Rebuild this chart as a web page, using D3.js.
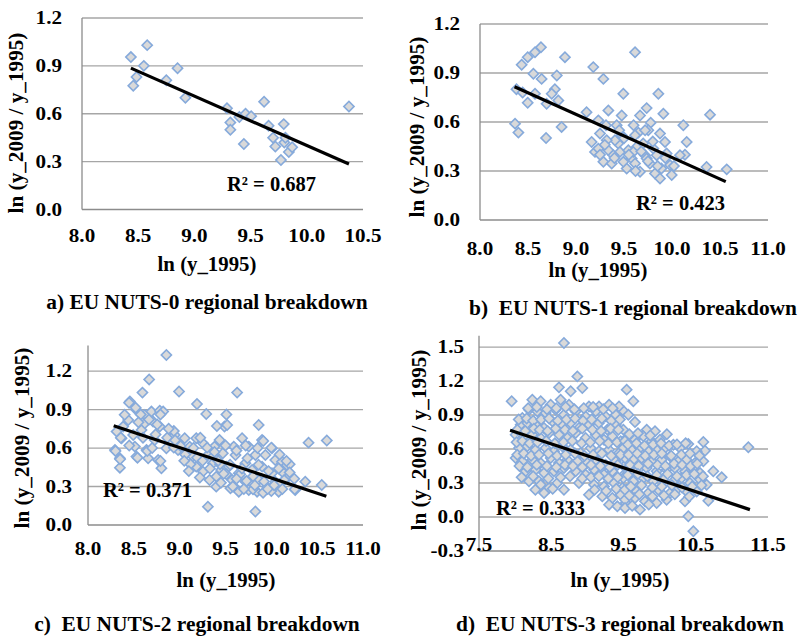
<!DOCTYPE html>
<html><head><meta charset="utf-8">
<script src="https://cdn.jsdelivr.net/npm/d3@7/dist/d3.min.js"></script>
<style>
body{margin:0;background:#fff;}
svg text{font-family:"Liberation Serif","Times New Roman",serif;font-weight:bold;fill:#000;white-space:pre;}
</style></head>
<body><svg id="c" width="806" height="636"></svg>
<script>
// ---------- DATA ----------
const yTitle = "ln (y_2009 / y_1995)";
const xTitle = "ln (y_1995)";
const captions = ["a) EU NUTS-0 regional breakdown","b)  EU NUTS-1 regional breakdown","c)  EU NUTS-2 regional breakdown","d)  EU NUTS-3 regional breakdown"];
const r2Labels = ["R² = 0.687","R² = 0.423","R² = 0.371","R² = 0.333"];

const xTicksA = [8.0,8.5,9.0,9.5,10.0,10.5];
const xTicksB = [8.0,8.5,9.0,9.5,10.0,10.5,11.0];
const xTicksD = [7.5,8.5,9.5,10.5,11.5];
const yTicksA = [0.0,0.3,0.6,0.9,1.2];
const yTicksD = [-0.3,0.0,0.3,0.6,0.9,1.2,1.5];

const nuts0X = [8.435,8.58,8.55,8.485,8.456,8.75,8.85,8.92,9.29,9.32,9.32,9.40,9.455,9.505,9.44,9.62,9.66,9.70,9.72,9.795,9.80,9.77,9.84,9.87,10.375,9.81];
const nuts0Y = [0.955,1.03,0.90,0.83,0.775,0.81,0.885,0.70,0.635,0.545,0.50,0.58,0.60,0.585,0.41,0.675,0.525,0.45,0.395,0.535,0.42,0.31,0.36,0.39,0.645,0.45];
const trend0 = [[8.435,0.886],[10.375,0.285]];

const nuts1X = [8.635,8.573,8.497,8.434,8.885,9.615,8.556,8.642,8.80,9.18,9.285,8.38,8.444,8.573,8.78,8.747,8.816,8.694,8.497,9.493,9.858,8.365,8.40,8.688,8.85,9.11,9.233,9.337,9.476,9.667,9.736,9.91,10.396,10.118,10.153,9.778,9.65,9.753,9.875,9.927,10.135,10.36,10.57,9.163,9.25,9.3125,9.424,9.198,9.285,9.372,9.233,9.337,9.44,9.458,9.528,9.58,9.632,9.615,9.667,9.719,9.77,9.823,9.875,9.89,9.98,9.997,10.083,9.806,9.84,9.545,9.406,9.32,9.493,9.615,9.736,9.944,9.389,9.597,9.70,9.476,
 9.30,9.40,9.50,9.55,9.62,9.68,9.75,9.80,9.85,9.93,9.60,9.45,9.25,9.72,10.02];
const nuts1Y = [1.058,1.027,0.997,0.95,0.997,1.027,0.895,0.864,0.885,0.936,0.864,0.80,0.78,0.773,0.80,0.773,0.732,0.712,0.718,0.773,0.773,0.59,0.535,0.502,0.57,0.66,0.61,0.671,0.64,0.64,0.685,0.65,0.645,0.58,0.478,0.596,0.535,0.549,0.529,0.478,0.40,0.325,0.31,0.478,0.529,0.58,0.58,0.417,0.356,0.346,0.437,0.427,0.468,0.417,0.315,0.376,0.447,0.519,0.295,0.397,0.346,0.285,0.254,0.315,0.336,0.275,0.397,0.437,0.397,0.427,0.488,0.488,0.356,0.346,0.376,0.407,0.397,0.417,0.468,0.519,
 0.46,0.38,0.50,0.40,0.30,0.42,0.36,0.48,0.33,0.38,0.58,0.55,0.40,0.55,0.33];
const trend1 = [[8.36,0.816],[10.56,0.235]];

const nuts2X = [8.855,8.667,8.594,8.993,8.457,8.529,8.62,8.692,8.783,8.82,9.189,9.29,8.439,8.384,8.312,8.366,8.294,8.348,8.348,8.511,8.529,8.638,8.656,8.765,8.801,8.493,8.584,8.62,8.71,8.783,8.728,8.855,8.946,9.055,8.982,9.109,9.145,9.181,9.254,9.308,9.308,9.38,9.362,9.399,9.435,9.471,9.453,9.489,9.254,9.326,9.399,9.507,9.181,
 9.627,9.862,9.518,9.681,9.899,10.007,10.406,10.605,9.59,9.754,9.826,9.935,10.043,10.116,10.17,9.609,9.717,9.536,9.645,9.79,9.899,10.007,10.134,10.188,10.37,10.55,10.261,10.08,9.953,9.844,9.754,9.645,9.554,9.826,9.717,9.862,10.043,9.572,
 10.20,10.255,10.09,10.0,9.91,9.80,9.73,9.66,9.587,9.51,9.44,9.37,9.30,9.225,9.19,9.117,9.06,9.01,8.936,8.936,8.864,8.79,8.755,8.665,8.575,8.52,8.448,8.358,8.30,8.35,8.54,8.647,8.737,8.79,9.406,9.51,9.912,10.0,10.09,10.165,
 9.25,9.33,9.42,9.48,9.55,9.62,9.68,9.74,9.80,9.86,9.92,9.97,10.03,10.08,10.14,10.20,9.38,9.50,9.62,9.72,9.85,9.58,9.70,9.82,9.96,9.45,9.15,9.05,8.95,8.88,8.70,8.60,8.45,8.40,8.55,9.10,9.22,10.25,10.12];
const nuts2Y = [1.325,1.135,1.032,1.04,0.962,0.896,0.858,0.884,0.891,0.884,0.943,0.865,0.819,0.767,0.728,0.676,0.585,0.52,0.447,0.611,0.533,0.585,0.52,0.507,0.442,0.702,0.741,0.793,0.806,0.767,0.663,0.598,0.702,0.676,0.585,0.611,0.533,0.455,0.637,0.546,0.143,0.611,0.481,0.377,0.663,0.559,0.429,0.767,0.416,0.351,0.299,0.455,0.676,
 1.032,0.78,0.78,0.676,0.663,0.598,0.642,0.658,0.611,0.611,0.546,0.546,0.507,0.494,0.468,0.546,0.481,0.455,0.403,0.429,0.455,0.403,0.403,0.377,0.338,0.312,0.273,0.26,0.299,0.26,0.273,0.26,0.286,0.105,0.338,0.351,0.338,0.351,
 0.473,0.278,0.317,0.265,0.252,0.278,0.343,0.395,0.304,0.395,0.473,0.538,0.603,0.68,0.525,0.473,0.55,0.616,0.732,0.603,0.68,0.862,0.784,0.823,0.862,0.914,0.953,0.68,0.577,0.512,0.525,0.577,0.706,0.499,0.771,0.862,0.655,0.603,0.55,0.499,
 0.50,0.44,0.50,0.40,0.47,0.36,0.44,0.52,0.38,0.47,0.34,0.42,0.31,0.44,0.35,0.41,0.57,0.62,0.58,0.62,0.60,0.30,0.28,0.31,0.28,0.33,0.60,0.50,0.66,0.75,0.60,0.68,0.62,0.86,0.80,0.42,0.37,0.36,0.28];
const trend2 = [[8.28,0.774],[10.6,0.224]];

const nuts3X = [8.676,8.861,8.607,8.769,8.93,7.952,8.676,8.469,8.33,
 8.238,8.354,8.492,8.63,8.746,9.022,9.161,9.30,9.438,
 8.10,8.192,8.307,8.423,8.561,8.676,8.838,8.976,9.115,9.253,9.392,9.507,
 8.077,8.169,8.284,8.40,8.515,8.653,8.769,8.884,9.022,9.161,9.276,9.392,
 8.007,8.123,8.238,8.354,8.469,8.607,8.723,8.838,8.976,9.115,9.23,9.345,9.461,
 8.054,8.169,8.284,8.423,8.538,8.653,8.769,8.907,9.046,9.161,9.30,9.438,
 8.007,8.10,8.238,8.354,8.492,8.607,8.723,8.861,8.999,9.115,9.253,9.392,9.507,
 8.146,8.284,8.40,8.538,8.676,8.838,8.976,9.092,9.23,9.345,9.484,
 8.192,8.354,8.584,8.884,9.092,9.23,9.369,9.484,
 8.40,9.022,9.207,9.345,9.461,
 9.30,9.415,9.53,
 9.544,9.636,11.228,10.397,10.467,9.567,9.659,10.397,10.605,10.628,10.743,10.859,10.674,
 9.498,9.821,9.936,
 9.544,9.659,9.775,9.89,10.005,
 9.498,9.613,9.728,9.844,9.959,10.074,10.19,10.282,10.513,
 9.521,9.636,9.751,9.89,10.028,10.144,10.259,10.374,10.49,10.605,
 9.567,9.705,9.821,9.959,10.097,10.213,10.351,10.467,10.559,
 9.498,9.636,9.775,9.913,10.051,10.19,10.305,10.42,10.559,10.651,
 9.544,9.682,9.844,9.982,10.144,10.259,10.374,10.513,
 9.521,9.659,9.798,9.959,10.097,10.351,
 9.521,9.728,
 8.18,8.30,8.44,8.57,8.70,8.82,8.95,9.08,9.22,9.35,
 8.05,8.16,8.25,8.36,8.47,8.59,8.71,8.83,8.94,9.06,9.20,9.33,9.45,
 8.03,8.14,8.26,8.34,8.45,8.56,8.69,8.80,8.93,9.07,9.19,9.32,9.43,
 8.02,8.10,8.20,8.31,8.43,8.55,8.67,8.79,8.92,9.04,9.17,9.29,9.41,9.52,
 8.03,8.12,8.22,8.33,8.46,8.58,8.70,8.83,8.96,9.08,9.20,9.33,9.46,
 8.06,8.17,8.30,8.44,8.57,8.69,8.80,8.93,9.05,9.18,9.31,9.42,
 8.09,8.25,8.46,8.63,8.76,8.93,9.05,9.16,9.29,9.42,
 8.28,8.52,9.10,9.26,9.40,9.52,
 9.58,9.70,9.87,10.10,
 9.56,9.68,9.79,9.91,10.02,10.13,10.24,10.36,
 9.57,9.69,9.80,9.92,10.03,10.16,10.30,10.42,10.55,
 9.59,9.71,9.84,9.97,10.08,10.20,10.31,10.43,10.52,
 9.56,9.70,9.83,9.96,10.11,10.24,10.37,10.48,10.60,
 9.60,9.75,9.90,10.03,10.17,10.31,10.45,10.58,
 9.58,9.72,9.90,10.06,10.21,10.41,
 9.62,9.85];
const nuts3Y = [1.535,1.241,1.144,1.109,1.138,1.021,0.241,0.256,0.315,
 1.035,1.021,0.991,1.035,0.991,0.976,0.976,0.991,0.976,
 0.874,0.947,0.932,0.918,0.947,0.903,0.932,0.888,0.932,0.888,0.903,0.932,
 0.815,0.829,0.815,0.785,0.844,0.815,0.829,0.785,0.815,0.829,0.771,0.815,
 0.726,0.712,0.726,0.697,0.741,0.726,0.697,0.741,0.697,0.726,0.682,0.712,0.668,
 0.609,0.624,0.594,0.609,0.58,0.624,0.594,0.565,0.609,0.58,0.594,0.565,
 0.521,0.491,0.506,0.476,0.521,0.476,0.506,0.491,0.476,0.506,0.462,0.491,0.447,
 0.403,0.418,0.388,0.403,0.432,0.403,0.374,0.418,0.374,0.403,0.359,
 0.315,0.285,0.30,0.30,0.285,0.27,0.30,0.256,
 0.212,0.197,0.182,0.168,0.197,
 0.109,0.094,0.124,
 1.124,1.021,0.615,0.006,-0.126,0.903,0.838,0.644,0.662,0.585,0.403,0.35,0.144,
 0.771,0.771,0.756,
 0.697,0.682,0.712,0.668,0.682,
 0.609,0.594,0.609,0.58,0.594,0.609,0.638,0.609,0.58,
 0.521,0.506,0.521,0.491,0.506,0.535,0.491,0.506,0.476,0.491,
 0.432,0.418,0.432,0.403,0.418,0.432,0.403,0.432,0.388,
 0.344,0.315,0.344,0.315,0.329,0.315,0.344,0.30,0.329,0.285,
 0.241,0.226,0.212,0.241,0.212,0.256,0.226,0.226,
 0.153,0.168,0.138,0.124,0.153,0.138,
 0.079,0.065,
 0.96,0.97,0.95,0.96,0.97,0.95,0.96,0.97,0.95,0.96,
 0.86,0.87,0.85,0.86,0.87,0.85,0.86,0.87,0.85,0.86,0.87,0.85,0.86,
 0.77,0.76,0.78,0.77,0.76,0.78,0.77,0.76,0.78,0.77,0.76,0.78,0.77,
 0.66,0.67,0.65,0.66,0.67,0.65,0.66,0.67,0.65,0.66,0.67,0.65,0.66,0.67,
 0.55,0.56,0.54,0.55,0.56,0.54,0.55,0.56,0.54,0.55,0.56,0.54,0.55,
 0.45,0.44,0.46,0.45,0.44,0.46,0.45,0.44,0.46,0.45,0.44,0.46,
 0.35,0.36,0.34,0.35,0.36,0.34,0.35,0.36,0.34,0.35,
 0.24,0.25,0.24,0.23,0.25,0.24,
 0.73,0.74,0.72,0.73,
 0.64,0.65,0.63,0.64,0.65,0.63,0.64,0.65,
 0.55,0.56,0.54,0.55,0.56,0.54,0.55,0.56,0.54,
 0.46,0.45,0.47,0.46,0.45,0.47,0.46,0.45,0.47,
 0.37,0.38,0.36,0.37,0.38,0.36,0.37,0.38,0.36,
 0.27,0.28,0.26,0.27,0.28,0.26,0.27,0.28,
 0.19,0.20,0.18,0.19,0.20,0.18,
 0.10,0.11];
const trend3 = [[7.93,0.765],[11.25,0.065]];

// ---------- DRAW ----------
const svg = d3.select("#c");
const fmt = v => d3.format(".1f")(v).replace("\u2212","-");
const gridColor = "#a6a6a6", axisColor = "#8c8c8c";
const markerFill = "#d9d9d9", markerStroke = "#86aadb";

function stretch(sel, k){ sel.each(function(){ const w=this.getComputedTextLength(); this.setAttribute("textLength", w*k); this.setAttribute("lengthAdjust","spacingAndGlyphs"); }); }

const panels = [
 {xs:nuts0X, ys:nuts0Y, trend:trend0, xd:[8,10.5], xr:[82,363], yd:[0,1.2], yr:[209.5,18], xt:xTicksA, yt:yTicksA, grid:[0.3,0.6,0.9,1.2],
  ylabR:62, xlabB:242, xtitle:[207,271], ytitle:[23,123], cap:[207,309], r2:[227,191]},
 {xs:nuts1X, ys:nuts1Y, trend:trend1, xd:[8,11], xr:[480,768], yd:[0,1.2], yr:[220,24], xt:xTicksB, yt:yTicksA, grid:[0.3,0.6,0.9,1.2],
  ylabR:460, xlabB:255, xtitle:[598,277], ytitle:[424,127], cap:[633,315], r2:[636,210]},
 {xs:nuts2X, ys:nuts2Y, trend:trend2, xd:[8,11], xr:[88,363], yd:[0,1.4], yr:[525,345.4], xt:xTicksB, yt:yTicksA, grid:[0.3,0.6,0.9,1.2],
  ylabR:72, xlabB:555, xtitle:[226,587], ytitle:[29,438], cap:[197,631], r2:[103,497]},
 {xs:nuts3X, ys:nuts3Y, trend:trend3, xd:[7.5,11.5], xr:[479,768], yd:[-0.3,1.6], yr:[551,335.7], xt:xTicksD, yt:yTicksD, grid:[0,0.3,0.6,0.9,1.2,1.5],
  ylabR:464, xlabB:551, xtitle:[620,587], ytitle:[426,440], cap:[620,631], r2:[496,515]}
];

const diamond = d3.symbol(d3.symbolSquare, 52);

panels.forEach((p,i)=>{
  const x = d3.scaleLinear().domain(p.xd).range(p.xr);
  const y = d3.scaleLinear().domain(p.yd).range(p.yr);
  const g = svg.append("g");
  g.selectAll("line.grid").data(p.grid).join("line")
    .attr("x1",p.xr[0]).attr("x2",p.xr[1]).attr("y1",d=>y(d)).attr("y2",d=>y(d))
    .attr("stroke",gridColor).attr("stroke-width",1.3);
  g.append("line").attr("x1",p.xr[0]).attr("x2",p.xr[1]).attr("y1",p.yr[0]).attr("y2",p.yr[0]).attr("stroke",axisColor).attr("stroke-width",1.3);
  g.append("line").attr("x1",p.xr[0]).attr("x2",p.xr[0]).attr("y1",p.yr[0]).attr("y2",p.yr[1]).attr("stroke",axisColor).attr("stroke-width",1.3);
  const pts = p.xs.map((v,j)=>[v,p.ys[j]]);
  g.selectAll("path.pt").data(pts).join("path")
    .attr("d",diamond).attr("transform",d=>`translate(${x(d[0])},${y(d[1])}) rotate(45)`)
    .attr("fill",markerFill).attr("stroke",markerStroke).attr("stroke-width",1.6);
  g.append("line").attr("x1",x(p.trend[0][0])).attr("y1",y(p.trend[0][1])).attr("x2",x(p.trend[1][0])).attr("y2",y(p.trend[1][1]))
    .attr("stroke","#000").attr("stroke-width",3.2);
  const yl = g.selectAll("text.yl").data(p.yt).join("text")
    .attr("x",p.ylabR).attr("y",d=>y(d)+6).attr("text-anchor","end").style("font-size","18.5px").text(fmt);
  const xl = g.selectAll("text.xl").data(p.xt).join("text")
    .attr("x",d=>x(d)).attr("y",p.xlabB).attr("text-anchor","middle").style("font-size","18.5px").text(fmt);
  stretch(yl,1.14); stretch(xl,1.14);
  const xt = g.append("text").attr("x",p.xtitle[0]).attr("y",p.xtitle[1]).attr("text-anchor","middle").style("font-size","20px").text(xTitle);
  const yt = g.append("text").attr("transform",`translate(${p.ytitle[0]},${p.ytitle[1]}) rotate(-90)`).attr("text-anchor","middle").style("font-size","20px").text(yTitle);
  stretch(xt,1.04); stretch(yt,1.06);
  const cap = g.append("text").attr("x",p.cap[0]).attr("y",p.cap[1]).attr("text-anchor","middle").style("font-size","20px").text(captions[i]);
  stretch(cap,1.07);
  g.append("text").attr("x",p.r2[0]).attr("y",p.r2[1]).style("font-size","20.5px").text(r2Labels[i]);
});
</script></body></html>
